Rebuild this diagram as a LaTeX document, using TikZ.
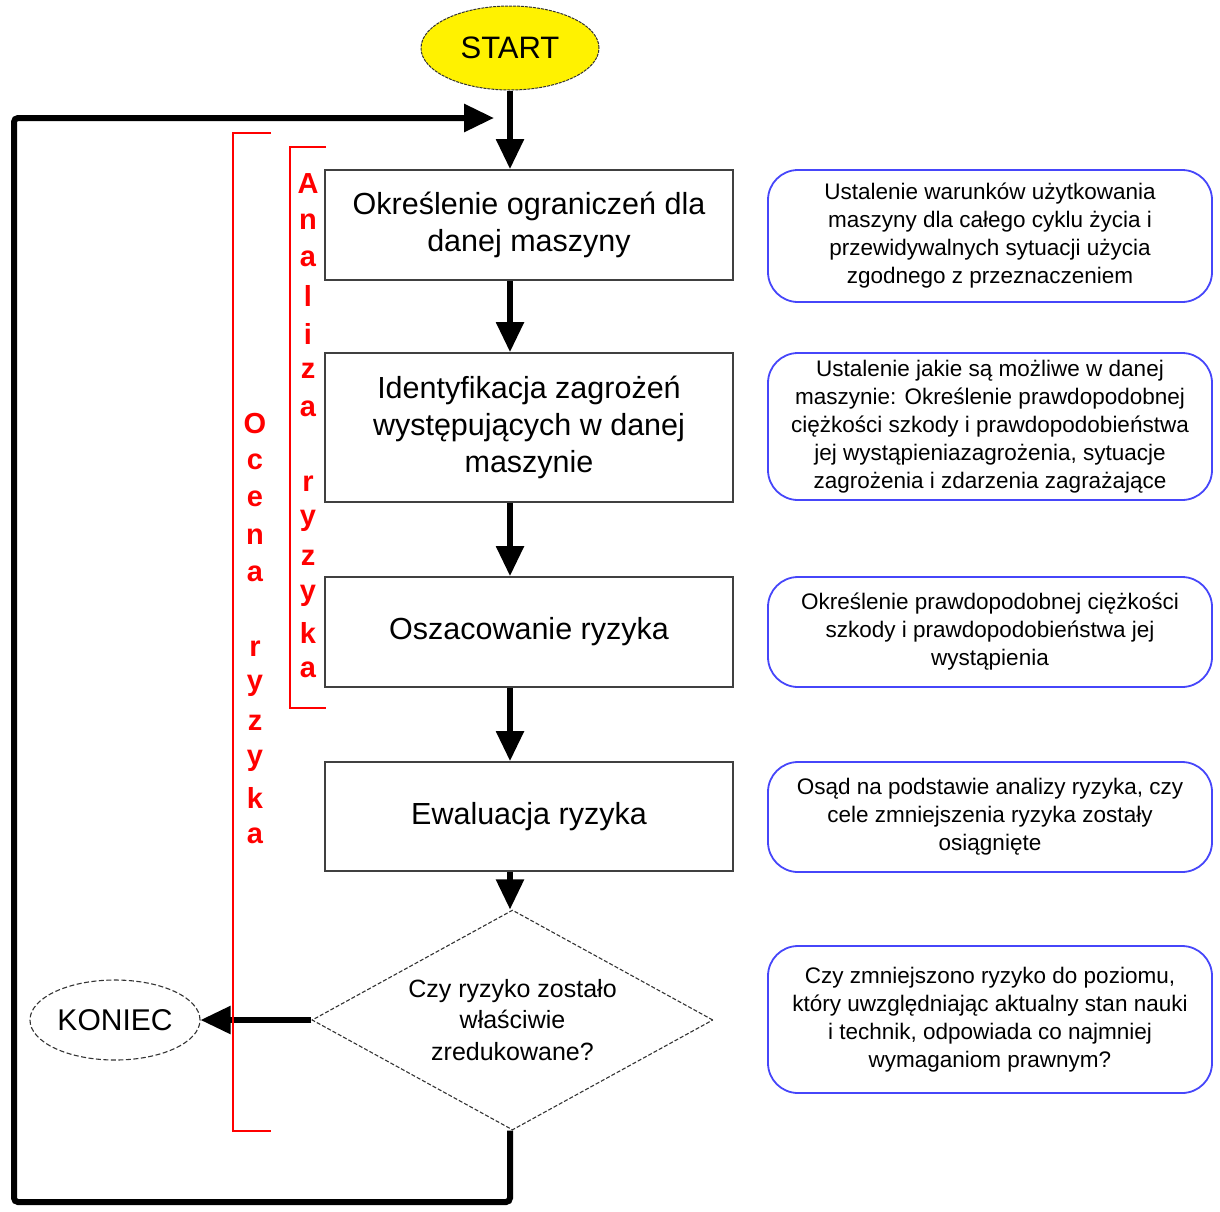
\documentclass[tikz,border=0pt]{standalone}
\usepackage{fontspec}
\setmainfont{Liberation Sans}
\usetikzlibrary{shapes.geometric,arrows.meta}
\definecolor{bluebox}{RGB}{70,70,250}
\tikzset{
  x=1pt,y=-1pt,
  mainbox/.style={draw=black!75,line width=1.8pt,fill=white,minimum width=408pt,align=center,font=\fontsize{30.5}{37}\selectfont,inner sep=0pt},
  notebox/.style={draw=bluebox,line width=1.8pt,rounded corners=30pt,minimum width=444pt,align=center,font=\fontsize{22.5}{28}\selectfont,inner sep=0pt},
  flowarrow/.style={line width=5.5pt,-{Triangle[length=30pt,width=27pt]}},
  loopline/.style={line width=6pt,rounded corners=4pt},
  redbr/.style={draw=red,line width=2.5pt},
  redletter/.style={text=red,font=\fontsize{29}{30}\bfseries\selectfont,inner sep=0pt}
}
\begin{document}
\begin{tikzpicture}
\useasboundingbox (0,0) rectangle (1220,1211);
% start
\node[ellipse,draw=black!80,dashed,dash pattern=on 3pt off 1pt,line width=1pt,fill=yellow,minimum width=178pt,minimum height=84pt,inner sep=0pt,font=\fontsize{31}{31}\selectfont] (start) at (510,48) {START};
% main boxes
\node[mainbox,minimum height=110pt] (b1) at (529,225) {Określenie ograniczeń dla\\danej maszyny};
\node[mainbox,minimum height=149pt] (b2) at (529,427.5) {Identyfikacja zagrożeń\\występujących w danej\\maszynie};
\node[mainbox,minimum height=110pt] (b3) at (529,632) {Oszacowanie ryzyka};
\node[mainbox,minimum height=109pt] (b4) at (529,816.5) {Ewaluacja ryzyka};
\node[diamond,draw=black!80,dashed,dash pattern=on 4pt off 2pt,line width=1.1pt,minimum width=401pt,minimum height=220pt,inner sep=0pt,aspect=1.82,align=center,font=\fontsize{25}{31.5}\selectfont] (dec) at (512.5,1020) {Czy ryzyko zostało\\właściwie\\zredukowane?};
\node[ellipse,draw=black!80,dashed,dash pattern=on 5pt off 2.5pt,line width=1.1pt,minimum width=170pt,minimum height=80pt,inner sep=0pt,font=\fontsize{30}{30}\selectfont] (end) at (115,1020) {KONIEC};
% note boxes
\node[notebox,minimum height=132pt] (n1) at (990,236) {Ustalenie warunków użytkowania\\maszyny dla całego cyklu życia i\\przewidywalnych sytuacji użycia\\zgodnego z przeznaczeniem};
\node[notebox,minimum height=147pt] (n2) at (990,426.5) {Ustalenie jakie są możliwe w danej\\maszynie: Określenie prawdopodobnej\\ciężkości szkody i prawdopodobieństwa\\jej wystąpieniazagrożenia, sytuacje\\zagrożenia i zdarzenia zagrażające};
\node[notebox,minimum height=110pt] (n3) at (990,632) {Określenie prawdopodobnej ciężkości\\szkody i prawdopodobieństwa jej\\wystąpienia};
\node[notebox,minimum height=110pt] (n4) at (990,817) {Osąd na podstawie analizy ryzyka, czy\\cele zmniejszenia ryzyka zostały\\osiągnięte};
\node[notebox,minimum height=147pt] (n5) at (990,1019.5) {Czy zmniejszono ryzyko do poziomu,\\który uwzględniając aktualny stan nauki\\i technik, odpowiada co najmniej\\wymaganiom prawnym?};
% arrows
\draw[flowarrow] (start.south) -- (b1.north -| start.south);
\draw[flowarrow] (b1.south -| start.south) -- (b2.north -| start.south);
\draw[flowarrow] (b2.south -| start.south) -- (b3.north -| start.south);
\draw[flowarrow] (b3.south -| start.south) -- (b4.north -| start.south);
\draw[flowarrow] (b4.south -| start.south) -- (dec.north -| start.south);
\draw[flowarrow] (dec.west) -- (end.east);
\coordinate (lp1) at (510,1202);
\coordinate (lp2) at (14,1202);
\coordinate (lp3) at (14,118);
\coordinate (lp4) at (494,118);
\draw[flowarrow,line width=6pt,rounded corners=4pt] (dec.south -| start.south) -- (lp1) -- (lp2) -- (lp3) -- (lp4);
% red brackets
\draw[redbr] (271,133) -- (233,133) -- (233,1131) -- (271,1131);
\draw[redbr] (326,147) -- (290,147) -- (290,708) -- (326,708);
% vertical letters
\foreach \ch [count=\i from 0] in {O,c,e,n,a,{},r,y,z,y,k,a}
  \node[redletter] (oc\i) at (255,424+37.4*\i) {\ch};
\foreach \ch [count=\i from 0] in {A,n,a,l,i,z,a,{},r,y,z,y,k,a}
  \node[redletter] (an\i) at (308,184+37.4*\i) {\ch};
\end{tikzpicture}
\end{document}
